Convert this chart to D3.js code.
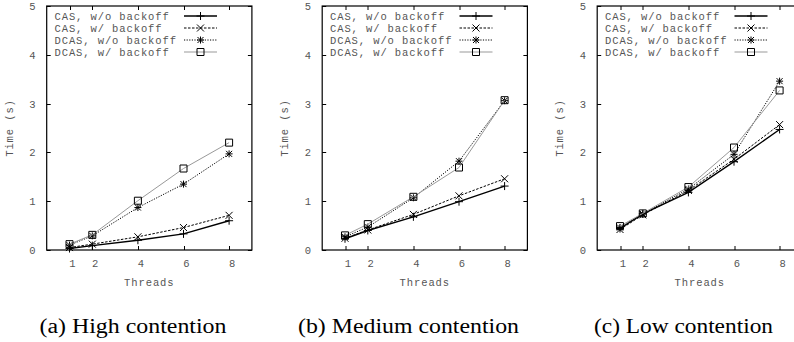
<!DOCTYPE html>
<html>
<head>
<meta charset="utf-8">
<script src="https://cdn.jsdelivr.net/npm/d3@7"></script>
<style>
  html, body { margin: 0; padding: 0; background: #fff; }
  svg { display: block; }
</style>
</head>
<body>
<svg id="chart" width="794" height="342"></svg>
<script>
// ---- data ----
const threads = [1, 2, 4, 6, 8];
const yTicks = [0, 1, 2, 3, 4, 5];
const seriesNames = ["CAS, w/o backoff", "CAS, w/ backoff", "DCAS, w/o backoff", "DCAS, w/ backoff"];
const panelTitles = ["(a) High contention", "(b) Medium contention", "(c) Low contention"];

const highCasNoBackoff   = [0.03, 0.09, 0.20, 0.33, 0.60];
const highCasBackoff     = [0.05, 0.12, 0.27, 0.46, 0.71];
const highDcasNoBackoff  = [0.10, 0.29, 0.87, 1.35, 1.97];
const highDcasBackoff    = [0.12, 0.31, 1.01, 1.67, 2.20];

const medCasNoBackoff    = [0.23, 0.40, 0.68, 0.99, 1.31];
const medCasBackoff      = [0.24, 0.41, 0.73, 1.11, 1.46];
const medDcasNoBackoff   = [0.27, 0.47, 1.07, 1.82, 3.06];
const medDcasBackoff     = [0.30, 0.53, 1.09, 1.69, 3.07];

const lowCasNoBackoff    = [0.44, 0.74, 1.18, 1.81, 2.47];
const lowCasBackoff      = [0.42, 0.72, 1.22, 1.86, 2.57];
const lowDcasNoBackoff   = [0.46, 0.74, 1.25, 1.96, 3.46];
const lowDcasBackoff     = [0.49, 0.75, 1.29, 2.10, 3.27];

const panelsData = [
  [highCasNoBackoff, highCasBackoff, highDcasNoBackoff, highDcasBackoff],
  [medCasNoBackoff, medCasBackoff, medDcasNoBackoff, medDcasBackoff],
  [lowCasNoBackoff, lowCasBackoff, lowDcasNoBackoff, lowDcasBackoff]
];

// ---- styles ----
const styles = [
  { stroke: "#000", width: 1.4, dash: null, marker: "plus" },
  { stroke: "#000", width: 1, dash: "2.5,1.5", marker: "cross" },
  { stroke: "#000", width: 1, dash: "1.2,1.4", marker: "star" },
  { stroke: "#999", width: 1, dash: null, marker: "square" }
];
const markerPaths = {
  plus: "M-4,0H4M0,-4V4",
  cross: "M-3.5,-3.5L3.5,3.5M-3.5,3.5L3.5,-3.5",
  star: "M-3.5,0H3.5M0,-3.5V3.5M-3,-3L3,3M-3,3L3,-3",
  square: "M-3.5,-3.5H3.5V3.5H-3.5Z"
};

const svg = d3.select("#chart");
const panelOffsets = [0, 275.5, 550.5];
const captionWidths = [187, 221, 179];
const plotLeft = 46.7, plotRight = 251.9, plotTop = 6, plotBottom = 250;
const mono = "'Liberation Mono', 'DejaVu Sans Mono', monospace";
const monoSize = 10.5, monoSpacing = 0.9;
const textColor = "#555";

const x = d3.scaleLinear().domain([0, 9]).range([plotLeft, plotRight]);
const y = d3.scaleLinear().domain([0, 5]).range([plotBottom, plotTop]);

function monoText(sel) {
  return sel.attr("font-family", mono).attr("font-size", monoSize)
    .attr("letter-spacing", monoSpacing).attr("fill", textColor);
}

panelsData.forEach((series, pi) => {
  const g = svg.append("g").attr("transform", `translate(${panelOffsets[pi]},0)`);

  // ticks (inward, mirrored)
  const tickG = g.append("g").attr("stroke", "#000").attr("stroke-width", 1);
  threads.forEach(t => {
    const xx = Math.round(x(t)) + 0.5;
    tickG.append("line").attr("x1", xx).attr("x2", xx).attr("y1", plotBottom).attr("y2", plotBottom - 4);
    tickG.append("line").attr("x1", xx).attr("x2", xx).attr("y1", plotTop).attr("y2", plotTop + 4);
  });
  yTicks.forEach(v => {
    const yy = Math.round(y(v)) + 0.5;
    tickG.append("line").attr("x1", plotLeft).attr("x2", plotLeft + 4).attr("y1", yy).attr("y2", yy);
    tickG.append("line").attr("x1", plotRight).attr("x2", plotRight - 4).attr("y1", yy).attr("y2", yy);
  });

  // tick labels
  monoText(g.append("g").selectAll("text").data(threads).join("text")
    .attr("x", d => x(d) + 3.4).attr("y", 267)
    .attr("text-anchor", "middle"))
    .text(d => d);
  monoText(g.append("g").selectAll("text").data(yTicks).join("text")
    .attr("x", 36.5).attr("y", d => y(d) + 4)
    .attr("text-anchor", "end"))
    .text(d => d);

  // axis titles
  monoText(g.append("text")
    .attr("x", (plotLeft + plotRight) / 2).attr("y", 285.5)
    .attr("text-anchor", "middle"))
    .text("Threads");
  monoText(g.append("text")
    .attr("transform", `translate(12.5,128) rotate(-90)`)
    .attr("text-anchor", "middle"))
    .text("Time (s)");

  // series
  const line = d3.line().x((d, i) => x(threads[i])).y(d => y(d));
  series.forEach((vals, si) => {
    const st = styles[si];
    g.append("path").datum(vals)
      .attr("d", line)
      .attr("fill", "none")
      .attr("stroke", st.stroke)
      .attr("stroke-width", st.width)
      .attr("stroke-dasharray", st.dash);
    g.append("g").selectAll("path").data(vals).join("path")
      .attr("transform", (d, i) => `translate(${x(threads[i])},${y(d)})`)
      .attr("d", markerPaths[st.marker])
      .attr("fill", "none")
      .attr("stroke", "#000")
      .attr("stroke-width", 1);
  });

  // legend
  seriesNames.forEach((name, si) => {
    const st = styles[si];
    const ly = 16 + si * 12;
    monoText(g.append("text")
      .attr("x", 54.5).attr("y", ly + 3.5))
      .text(name);
    g.append("line")
      .attr("x1", 184).attr("x2", 217).attr("y1", ly).attr("y2", ly)
      .attr("stroke", st.stroke).attr("stroke-width", st.width)
      .attr("stroke-dasharray", st.dash);
    g.append("path")
      .attr("transform", `translate(200.5,${ly})`)
      .attr("d", markerPaths[st.marker])
      .attr("fill", "none").attr("stroke", "#000").attr("stroke-width", 1);
  });

  // frame
  g.append("rect")
    .attr("x", plotLeft).attr("y", plotTop)
    .attr("width", plotRight - plotLeft).attr("height", plotBottom - plotTop)
    .attr("fill", "none").attr("stroke", "#000").attr("stroke-width", 1.2);

  // caption
  const cw = captionWidths[pi];
  g.append("text")
    .attr("x", 133 - cw / 2).attr("y", 333)
    .attr("font-family", "'Liberation Serif', 'Times New Roman', serif")
    .attr("font-size", 20).attr("fill", "#000")
    .attr("textLength", cw).attr("lengthAdjust", "spacingAndGlyphs")
    .text(panelTitles[pi]);
});
</script>
</body>
</html>
